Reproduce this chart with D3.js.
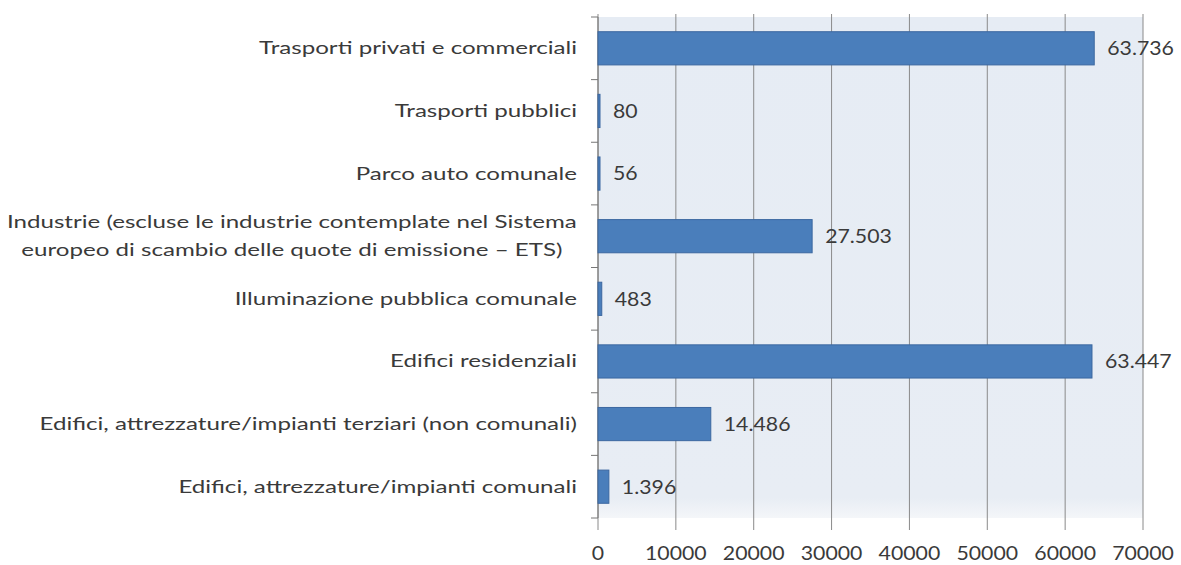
<!DOCTYPE html>
<html>
<head>
<meta charset="utf-8">
<script src="https://cdn.jsdelivr.net/npm/d3@7"></script>
<style>
  html, body { margin: 0; padding: 0; background: #fff; }
  svg text { font-family: Lato, "Open Sans", sans-serif; fill: #3a3a3a; }
</style>
</head>
<body>
<svg id="chart" width="1181" height="565"></svg>
<script>
// Emission sources (top to bottom) and their values
const categories = [
  ["Trasporti privati e commerciali"],
  ["Trasporti pubblici"],
  ["Parco auto comunale"],
  ["Industrie (escluse le industrie contemplate nel Sistema", "europeo di scambio delle quote di emissione – ETS)"],
  ["Illuminazione pubblica comunale"],
  ["Edifici residenziali"],
  ["Edifici, attrezzature/impianti terziari (non comunali)"],
  ["Edifici, attrezzature/impianti comunali"]
];
const values = [63736, 80, 56, 27503, 483, 63447, 14486, 1396];
const xTicks = [0, 10000, 20000, 30000, 40000, 50000, 60000, 70000];

const svg = d3.select("#chart");
const plotLeft = 598, plotRight = 1143, plotTop = 17, plotBottom = 518;
// horizontal stretch applied to text (wide, condensed-looking lettering)
const labelStretch = 1.34, numStretch = 1.12;

const x = d3.scaleLinear().domain([0, 70000]).range([plotLeft, plotRight]);
const y = d3.scaleBand().domain(d3.range(categories.length)).range([plotTop, plotBottom]).paddingInner(0.47).paddingOuter(0.235);
const band = d3.scaleBand().domain(d3.range(categories.length)).range([plotTop, plotBottom]);

// plot background with a soft fade at the bottom edge
const defs = svg.append("defs");
const grad = defs.append("linearGradient").attr("id", "bg").attr("x1", 0).attr("y1", 0).attr("x2", 0).attr("y2", 1);
grad.append("stop").attr("offset", "0%").attr("stop-color", "#e6ecf4");
grad.append("stop").attr("offset", "96%").attr("stop-color", "#e8edf4");
grad.append("stop").attr("offset", "100%").attr("stop-color", "#f4f6f9");
svg.append("rect").attr("x", plotLeft).attr("y", plotTop).attr("width", plotRight - plotLeft).attr("height", plotBottom - plotTop).attr("fill", "url(#bg)");

// vertical gridlines with tick marks below the plot
svg.append("g").selectAll("line").data(xTicks).join("line")
  .attr("x1", d => x(d)).attr("x2", d => x(d))
  .attr("y1", plotTop - 3).attr("y2", plotBottom + 12)
  .attr("stroke", "#8a8a8a").attr("stroke-width", 1);

// value axis labels
svg.append("g").selectAll("text").data(xTicks).join("text")
  .attr("transform", d => `translate(${x(d)},560) scale(${numStretch},1)`)
  .attr("text-anchor", "middle").attr("font-size", 19)
  .text(d => d);

// category axis line and ticks between categories
svg.append("line").attr("x1", plotLeft).attr("x2", plotLeft).attr("y1", plotTop).attr("y2", plotBottom)
  .attr("stroke", "#777").attr("stroke-width", 1);
svg.append("g").selectAll("line").data(d3.range(categories.length + 1)).join("line")
  .attr("x1", plotLeft - 7).attr("x2", plotLeft)
  .attr("y1", i => plotTop + i * band.bandwidth()).attr("y2", i => plotTop + i * band.bandwidth())
  .attr("stroke", "#777");

// bars
svg.append("g").selectAll("rect").data(values).join("rect")
  .attr("x", x(0)).attr("y", (d, i) => y(i))
  .attr("width", d => Math.max(x(d) - x(0), 2)).attr("height", y.bandwidth())
  .attr("fill", "#4a7ebb").attr("stroke", "#3b67a0").attr("stroke-width", 1);

// value labels with Italian thousands separator
const fmt = d3.formatLocale({ decimal: ",", thousands: ".", grouping: [3], currency: ["€", ""] }).format(",d");
svg.append("g").selectAll("text").data(values).join("text")
  .attr("transform", (d, i) => `translate(${Math.max(x(d), x(0) + 2) + 13},${y(i) + y.bandwidth() / 2}) scale(${numStretch},1)`)
  .attr("dy", "0.36em").attr("font-size", 19)
  .text(d => fmt(d));

// category labels, multi-line entries centred as a block
const labelRight = 577;
const lab = svg.append("g");
categories.forEach((lines, i) => {
  const cy = band(i) + band.bandwidth() / 2;
  if (lines.length === 1) {
    lab.append("text").attr("transform", `translate(${labelRight},${cy}) scale(${labelStretch},1)`)
      .attr("dy", "0.33em").attr("text-anchor", "end").attr("font-size", 18).text(lines[0]);
  } else {
    const g = lab.append("g");
    const ts = lines.map((s, k) => g.append("text").attr("y", cy + (k - (lines.length - 1) / 2) * 28)
      .attr("dy", "0.33em").attr("font-size", 18).attr("text-anchor", "middle").text(s));
    const w = d3.max(ts, t => t.node().getComputedTextLength()) * labelStretch;
    g.attr("transform", `translate(${labelRight - w / 2},0) scale(${labelStretch},1)`);
  }
});
</script>
</body>
</html>
